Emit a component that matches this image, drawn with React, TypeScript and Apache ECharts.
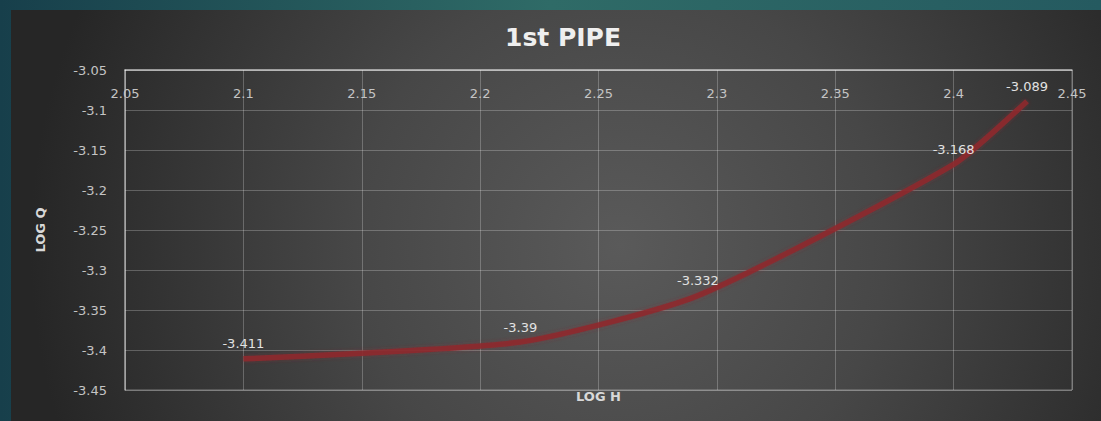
import React, { useEffect, useRef } from "react";
import * as echarts from "echarts";

// LOG H vs LOG Q readings for the first pipe
const logH = [2.1, 2.217, 2.292, 2.4, 2.431];
const logQ = [-3.411, -3.39, -3.332, -3.168, -3.089];

const xTicks = { min: 2.05, max: 2.45, step: 0.05 };
const yTicks = { min: -3.45, max: -3.05, step: 0.05 };

const chartTitle = "1st PIPE";
const xName = "LOG H";
const yName = "LOG Q";

const W = 1101;
const H = 421;
const FONT = "'DejaVu Sans', 'Noto Sans', sans-serif";

export default function App() {
  const ref = useRef<HTMLDivElement>(null);

  useEffect(() => {
    if (!ref.current) return;
    const chart = echarts.init(ref.current, null, { renderer: "svg" });
    const points = logH.map((x, i) => [x, logQ[i]]);

    chart.setOption({
      animation: false,
      backgroundColor: new echarts.graphic.LinearGradient(0, 0, 1, 0, [
        { offset: 0, color: "#173f4b" },
        { offset: 0.5, color: "#2f6b67" },
        { offset: 1, color: "#255a60" },
      ]),
      graphic: [
        {
          type: "rect",
          z: -10,
          silent: true,
          shape: { x: 11, y: 10, width: W - 11, height: H - 10 },
          style: {
            fill: new echarts.graphic.RadialGradient(
              620,
              245,
              590,
              [
                { offset: 0, color: "#5a5a5a" },
                { offset: 0.45, color: "#474747" },
                { offset: 1, color: "#262626" },
              ],
              true
            ),
          },
        },
      ],
      title: {
        text: chartTitle,
        left: 558,
        top: 20,
        textAlign: "center",
        textStyle: {
          color: "#efefef",
          fontFamily: FONT,
          fontWeight: "bold",
          fontSize: 25,
        },
      },
      grid: {
        left: 125,
        top: 70,
        width: 947,
        height: 320,
        show: true,
        borderColor: "rgba(255,255,255,0.35)",
        borderWidth: 1,
        backgroundColor: "transparent",
      },
      xAxis: {
        type: "value",
        position: "top",
        min: xTicks.min,
        max: xTicks.max,
        interval: xTicks.step,
        name: xName,
        nameLocation: "middle",
        nameGap: -333,
        nameTextStyle: {
          color: "#d8d8d8",
          fontFamily: FONT,
          fontWeight: "bold",
          fontSize: 13,
        },
        axisLine: { show: true, lineStyle: { color: "rgba(255,255,255,0.55)", width: 1.5 } },
        axisTick: { show: false },
        axisLabel: {
          inside: true,
          margin: 17,
          color: "#c4c4c4",
          fontFamily: FONT,
          fontSize: 13,
        },
        splitLine: { show: true, lineStyle: { color: "rgba(255,255,255,0.24)", width: 1 } },
      },
      yAxis: {
        type: "value",
        min: yTicks.min,
        max: yTicks.max,
        interval: yTicks.step,
        name: yName,
        nameLocation: "middle",
        nameGap: 78,
        nameTextStyle: {
          color: "#d8d8d8",
          fontFamily: FONT,
          fontWeight: "bold",
          fontSize: 13,
        },
        axisLine: { show: true, lineStyle: { color: "rgba(255,255,255,0.4)", width: 1.5 } },
        axisTick: { show: false },
        axisLabel: {
          margin: 18,
          color: "#c4c4c4",
          fontFamily: FONT,
          fontSize: 13,
        },
        splitLine: { show: true, lineStyle: { color: "rgba(255,255,255,0.24)", width: 1 } },
      },
      series: [
        {
          type: "line",
          data: points,
          smooth: 0.2,
          symbol: "circle",
          symbolSize: 1,
          showSymbol: true,
          itemStyle: { color: "rgba(0,0,0,0)" },
          lineStyle: {
            color: "#8e2a2d",
            width: 5.5,
            opacity: 0.88,
            shadowColor: "rgba(140,40,45,0.5)",
            shadowBlur: 4,
          },
          label: {
            show: true,
            position: "top",
            distance: 8,
            color: "#e2e2e2",
            fontFamily: FONT,
            fontSize: 13,
            formatter: (p: any) => String(p.value[1]),
          },
        },
      ],
    });

    return () => chart.dispose();
  }, []);

  return (
    <div
      ref={ref}
      style={{ position: "fixed", left: 0, top: 0, width: W, height: H }}
    />
  );
}
